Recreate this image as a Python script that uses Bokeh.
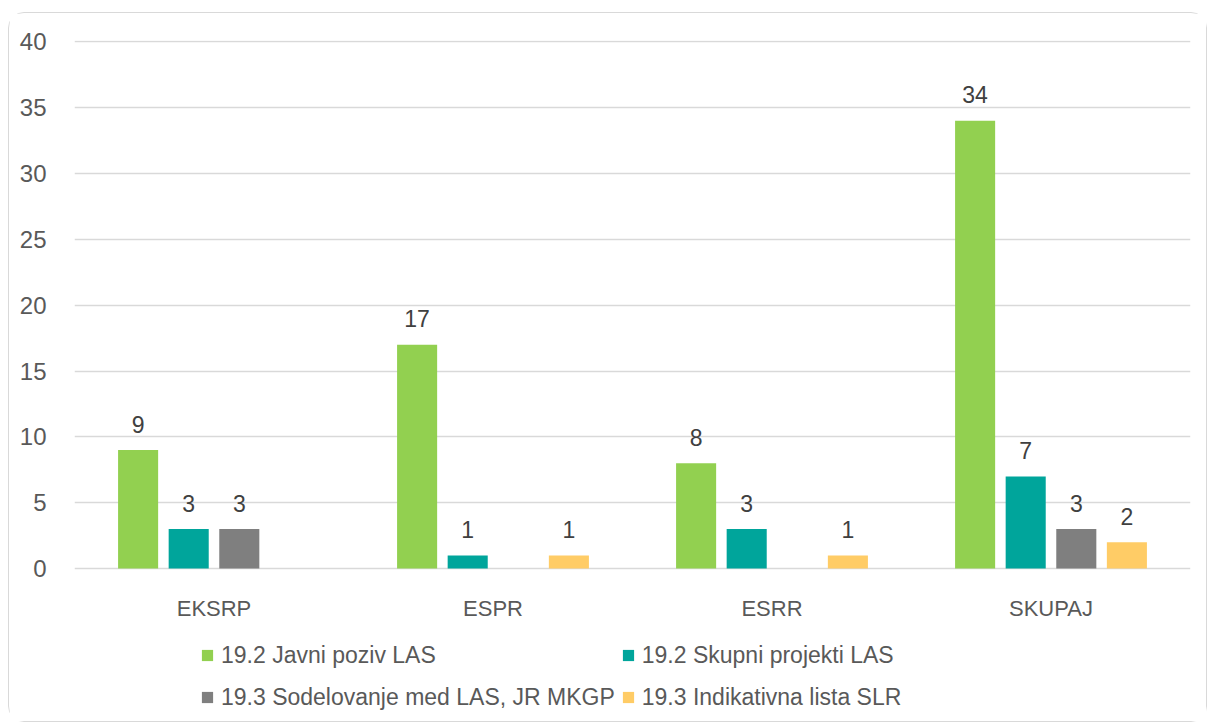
from bokeh.plotting import figure
from bokeh.models import ColumnDataSource, FactorRange, FixedTicker, Legend, LegendItem, Range1d
from bokeh.transform import dodge
from bokeh.core.properties import value
from bokeh.embed import file_html
from bokeh.resources import INLINE

categories = ["EKSRP", "ESPR", "ESRR", "SKUPAJ"]
series_names = ["19.2 Javni poziv LAS", "19.2 Skupni projekti LAS",
                "19.3 Sodelovanje med LAS, JR MKGP", "19.3 Indikativna lista SLR"]
javni_poziv = [9, 17, 8, 34]
skupni_projekti = [3, 1, 3, 7]
sodelovanje = [3, 0, 0, 3]
indikativna = [0, 1, 1, 2]
y_ticks = [0, 5, 10, 15, 20, 25, 30, 35, 40]

colors = ["#92D050", "#00A59B", "#7F7F7F", "#FFCC66"]
series = [javni_poziv, skupni_projekti, sodelovanje, indikativna]
offsets = [-0.272, -0.0907, 0.0907, 0.272]
bar_w = 0.1436

FONT = "Liberation Sans"

# figure placed at page (8, 12) by CSS margin; frame extends below the zero line
# so that the legend can sit inside it; the x axis is pinned at y = 0.
p = figure(x_range=FactorRange(factors=categories), y_range=Range1d(-11.23, 40.1),
           width=1199, height=710, output_backend="svg", toolbar_location=None,
           min_border_left=65, min_border_right=18, min_border_top=27, min_border_bottom=7)
p.styles = {"margin-left": "8px", "margin-top": "12px",
            "border": "1.5px solid #d9d9d9", "border-radius": "16px",
            "box-sizing": "border-box"}
p.outline_line_color = None
p.background_fill_color = "white"
p.border_fill_color = "white"

p.xgrid.grid_line_color = None
p.ygrid.grid_line_color = "#d9d9d9"
p.ygrid.grid_line_width = 1.5
p.yaxis.ticker = FixedTicker(ticks=y_ticks)
p.xaxis.fixed_location = 0
for ax in (p.xaxis[0], p.yaxis[0]):
    ax.axis_line_color = None
    ax.major_tick_line_color = None
    ax.minor_tick_line_color = None
    ax.major_label_text_color = "#595959"
    ax.major_label_text_font = FONT
p.yaxis.major_label_text_font_size = "24px"
p.xaxis.major_label_text_font_size = "22px"
p.yaxis.major_label_standoff = 22
p.xaxis.major_label_standoff = 21

renderers = {}
for name, vals, col, off in zip(series_names, series, colors, offsets):
    src = ColumnDataSource(dict(cat=categories, val=vals,
                                lab=[str(v) if v > 0 else "" for v in vals]))
    r = p.vbar(x=dodge("cat", off, range=p.x_range), top="val", width=bar_w, source=src,
               fill_color=col, line_color=None)
    p.text(x=dodge("cat", off, range=p.x_range), y="val", text="lab", source=src,
           text_align="center", text_baseline="alphabetic", y_offset=-26,
           text_font=value(FONT), text_font_size="23px", text_color="#404040")
    renderers[name] = r

# legend fills column by column: order so rows read as in the reference
legend_order = [series_names[0], series_names[2], series_names[1], series_names[3]]
items = [LegendItem(label=n, renderers=[renderers[n]]) for n in legend_order]

legend = Legend(items=items, ncols=2, location=(126, 1),
                glyph_width=14, glyph_height=14, label_standoff=7,
                label_text_font=FONT, label_text_font_size="23px",
                label_text_color="#595959", label_height=36,
                spacing=6, padding=0, margin=0,
                border_line_color=None, background_fill_alpha=0)
p.add_layout(legend, "center")

open("out.html", "w").write(file_html(p, INLINE))
